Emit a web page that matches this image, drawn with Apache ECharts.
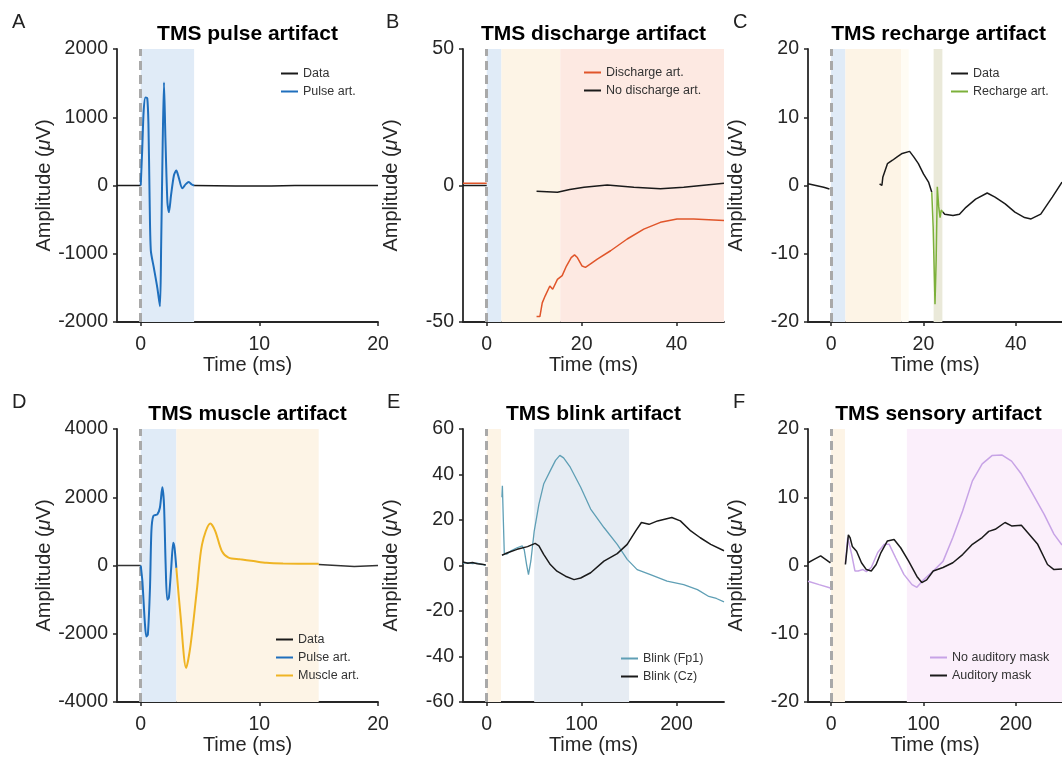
<!DOCTYPE html>
<html><head><meta charset="utf-8">
<script src="https://cdn.jsdelivr.net/npm/echarts@6/dist/echarts.min.js"></script>
<style>html,body{margin:0;padding:0;background:#fff}#c{width:1062px;height:763px}</style>
</head><body><div id="c"></div>
<script>
// ---------------- DATA ----------------
// Panel A: TMS pulse artifact (time ms, amplitude uV)
const A_data_pre = [[-2,0],[0,0]];
const A_data_post = [[4.5,0],[8,-8],[11,-8],[13,0],[20,0]];
const A_pulse = [[0,0],[0.12,500],[0.25,1100],[0.4,1290],[0.55,1280],[0.65,900],[0.75,-200],[0.85,-950],[1.1,-1200],[1.4,-1500],[1.62,-1770],[1.72,-900],[1.85,600],[1.96,1510],[2.08,700],[2.25,-250],[2.38,-390],[2.55,-150],[2.8,150],[3.0,220],[3.2,120],[3.5,-40],[3.8,20],[4.05,50],[4.3,15],[4.5,0]];
const A_bands = [[0,4.5]];

// Panel B: TMS discharge artifact
const B_discharge_pre = [[-5,0.8],[0,0.8]];
const B_discharge_post = [[10.5,-48],[11.2,-48],[11.7,-43],[12.3,-40.5],[13.3,-36.8],[13.9,-38],[14.9,-34.4],[15.9,-33],[16.8,-29.5],[17.8,-26.4],[18.5,-25.4],[19.1,-26.4],[20.1,-29.5],[20.8,-30],[21.8,-28.8],[23.3,-27],[26.1,-23.9],[29.6,-19.6],[33.1,-16],[36.6,-13.5],[40.1,-12.3],[43.6,-12.3],[50,-12.8]];
const B_nodis_pre = [[-5,0],[0,0]];
const B_nodis_post = [[10.5,-2.1],[14.9,-2.5],[17.5,-1.5],[20.5,-0.6],[25.4,0.2],[31,-0.6],[36.6,-1.2],[41.5,-0.6],[46.8,0.3],[50,0.8]];
const B_bands = [[0,3.1],[3.1,15.5],[15.5,50]];

// Panel C: TMS recharge artifact
const C_data_pre = [[-5,0.25],[-3.3,0],[-1.6,-0.25],[-0.35,-0.5]];
const C_data_mid = [[10.5,0.25],[11,0],[11.2,1.2],[12.2,3.2],[13.3,3.7],[14.3,4.2],[15.4,4.7],[17,5.0],[17.9,4.2],[18.9,3.2],[20,1.7],[21.1,0.5],[21.8,-1.0]];
const C_recharge = [[21.8,-1.0],[22.1,-6],[22.5,-17.4],[22.75,-11],[23.0,-0.2],[23.3,-3.1],[23.6,-4.7],[23.85,-3.6],[24.2,-3.9]];
const C_data_post = [[24.2,-3.9],[24.6,-4.2],[26.4,-4.4],[27.8,-4.2],[29.2,-3.2],[31.3,-2.0],[33.8,-1.1],[35.5,-1.7],[37.7,-2.7],[39.8,-3.9],[41.9,-4.7],[43.3,-4.9],[45.4,-4.2],[46.9,-2.7],[47.9,-1.7],[50,0.5]];
const C_bands = [[0,3.1],[3.1,15.2],[15.2,16.8],[22.2,24.1]];

// Panel D: TMS muscle artifact
const D_data_pre = [[-2,0],[0,0]];
const D_data_post = [[15,30],[16.5,0],[18,-30],[20,0]];
const D_pulse = [[0,0],[0.14,-460],[0.34,-1640],[0.47,-2080],[0.6,-2030],[0.78,-660],[0.9,1010],[1.06,1450],[1.4,1500],[1.62,1700],[1.82,2290],[1.96,1800],[2.1,30],[2.23,-1000],[2.37,-950],[2.57,-70],[2.74,670],[2.85,520],[3.0,-70]];
const D_muscle = [[3.0,-70],[3.35,-1450],[3.83,-3000],[4.2,-2330],[4.75,-660],[5.17,620],[5.87,1230],[6.28,1010],[6.84,420],[7.4,230],[8.38,180],[9.5,130],[10.6,80],[12,60],[15,50]];
const D_bands = [[0,3],[3,15]];

// Panel E: TMS blink artifact
const E_fp1_pre = [[-25,1.0],[-20,1.3],[-15,0.8],[-10,1.0],[-5,0.4],[-1,0.2]];
const E_fp1_post = [[16,30],[16.5,35],[17.5,20],[18.5,5.5],[21,5],[25,6.3],[32,7.8],[37.5,8.6],[39.5,7],[42,0.4],[44,-4],[46.5,2],[50,15],[55,27],[60,35.8],[67,41.7],[72.5,46.2],[77,48.4],[81,47.3],[88,43.2],[99,34.4],[109.5,24.8],[123.5,16.7],[137.5,9.3],[148,2.7],[158.5,-1.8],[172.5,-4],[190,-6.9],[207.5,-8.4],[222,-10.6],[234,-13.6],[242,-14.5],[250,-16]];
const E_cz_pre = [[-25,1.5],[-20,1.0],[-15,1.3],[-10,0.8],[-5,0.6],[-1,0.2]];
const E_cz_post = [[16,4.5],[22,5.6],[32,7.1],[43,8.3],[51,9.7],[55,8.6],[60,4.9],[67,0.4],[74,-2.5],[83,-4.7],[92,-6.2],[99,-5.5],[109.5,-3.2],[123.5,1.9],[137.5,5.2],[148,9.3],[157,15.2],[163,18.9],[171,18.1],[180,19.6],[195,21.1],[204,19.6],[215,15.2],[225,12.2],[236,9.3],[250,6.5]];
const E_bands = [[0,15],[50,150]];

// Panel F: TMS sensory artifact
const F_mask_pre = [[-25,0.4],[-18.4,0.9],[-11.3,1.4],[-6,0.9],[-0.7,0.4]];
const F_mask_post = [[15.5,0.15],[17,2.1],[18.7,4.5],[20.5,4.1],[23,2.8],[27.6,2.1],[32.9,0.4],[38.2,-0.6],[43.5,-0.8],[48.8,0.15],[54,1.9],[61,3.6],[68.2,3.8],[75.3,2.6],[84.1,0.6],[92.9,-1.6],[98.2,-2.5],[103.5,-2.1],[110.6,-0.8],[121.2,-0.3],[131.8,0.4],[142.4,1.6],[153,3.1],[163.6,4.1],[170.7,5.0],[177.7,5.3],[188.3,6.3],[195.4,5.8],[206,5.9],[213,4.8],[223.7,3.1],[234.3,0.15],[241.3,-0.6],[250,-0.5]];
const F_nomask_pre = [[-25,-2.3],[-13,-2.8],[-0.7,-3.3]];
const F_nomask_post = [[15.5,0.25],[18,4.1],[19.4,4.3],[22.3,1.6],[25.8,-0.8],[29.3,-0.8],[34.6,-0.6],[38.2,-0.9],[43.5,-0.3],[50.5,1.9],[57.6,3.1],[62.9,3.1],[70,1.1],[78.8,-1.3],[87.6,-2.8],[92.9,-3.2],[100,-2.1],[110.6,-0.8],[121.2,0.6],[131.8,4.1],[142.4,8.0],[153,12.4],[163.6,14.9],[174.2,16.1],[184.8,16.2],[195.4,15.3],[206,13.4],[216.6,10.9],[230.7,7.5],[241.3,4.6],[250,3.0]];
const F_bands = [[0,15],[82,250]];

// Axis ranges / ticks
const xRanges = [[-2,20],[-5,50],[-5,50],[-2,20],[-25,250],[-25,250]];
const xTicks = [[0,10,20],[0,20,40],[0,20,40],[0,10,20],[0,100,200],[0,100,200]];
const yRanges = [[-2000,2000,1000],[-50,50,50],[-20,20,10],[-4000,4000,2000],[-60,60,20],[-20,20,10]];
const titles = ['TMS pulse artifact','TMS discharge artifact','TMS recharge artifact','TMS muscle artifact','TMS blink artifact','TMS sensory artifact'];
const letters = ['A','B','C','D','E','F'];

// ---------------- LAYOUT / STYLE ----------------
const FONT = '"Liberation Sans", Arial, Helvetica, sans-serif';
const gridPos = [
  {left:117, top:49}, {left:463, top:49}, {left:808, top:49},
  {left:117, top:429}, {left:463, top:429}, {left:808, top:429}
];
const GW = 261, GH = 273;
const col = {
  black:'#1a1a1a', pulse:'#1f6fbd', discharge:'#e0552a', recharge:'#7cb03a',
  muscle:'#efb424', fp1:'#5f9fb5', nomask:'#c7a3e6'
};
const shade = {
  blue:'#e0ebf7', orange:'#fdf4e6', pink:'#fde9e2', cream:'#fffcf4', olive:'#eae9d9',
  bluegray:'#e6ecf3', lav:'#fbeffb'
};
const bandColors = [
  [shade.blue],
  [shade.blue, shade.orange, shade.pink],
  [shade.blue, shade.orange, shade.cream, shade.olive],
  [shade.blue, shade.orange],
  [shade.orange, shade.bluegray],
  [shade.orange, shade.lav]
];
const allBands = [A_bands,B_bands,C_bands,D_bands,E_bands,F_bands];

const grids = gridPos.map(p => ({left:p.left, top:p.top, width:GW, height:GH, containLabel:false}));
const axisLineStyle = {color:'#262626', width:1.8};
const xAxes = xRanges.map((r,i) => ({
  type:'value', gridIndex:i, min:r[0], max:r[1],
  name:'Time (ms)', nameLocation:'middle', nameGap:31,
  nameTextStyle:{fontSize:20, color:'#262626', fontFamily:FONT},
  axisLine:{show:true, onZero:false, lineStyle:axisLineStyle},
  axisTick:{show:true, customValues:xTicks[i], length:4, lineStyle:{color:'#262626', width:1.5}},
  axisLabel:{customValues:xTicks[i], fontSize:19.5, color:'#262626', fontFamily:FONT, margin:13, formatter:v=>String(v)},
  splitLine:{show:false}
}));
const yAxes = yRanges.map((r,i) => ({
  type:'value', gridIndex:i, min:r[0], max:r[1], interval:r[2],
  name:'{n|Amplitude (}{m|\u03bc}{n|V)}', nameLocation:'middle', nameGap:62,
  nameTextStyle:{rich:{n:{fontSize:20, color:'#262626', fontFamily:FONT}, m:{fontSize:20, fontStyle:'italic', color:'#262626', fontFamily:FONT}}},
  axisLine:{show:true, onZero:false, lineStyle:axisLineStyle},
  axisTick:{show:true, length:4, lineStyle:{color:'#262626', width:1.5}},
  axisLabel:{fontSize:19.5, color:'#262626', fontFamily:FONT, margin:9, formatter:v=>String(v)},
  splitLine:{show:false}
}));

function bandSeries(i){
  return {
    type:'line', name:'_bands'+i, xAxisIndex:i, yAxisIndex:i, data:[], silent:true, z:1,
    markArea:{silent:true, z:1, data: allBands[i].map((b,k)=>[{xAxis:b[0], itemStyle:{color:bandColors[i][k]}},{xAxis:b[1]}])},
    markLine:{silent:true, z:2, symbol:['none','none'], label:{show:false},
      lineStyle:{type:[9,5], color:'#a9a9a9', width:3}, data:[{xAxis:0}]}
  };
}
function lineS(i, name, data, color, width, smooth){
  return {type:'line', name:name, xAxisIndex:i, yAxisIndex:i, data:data, showSymbol:false, symbol:'none',
    smooth: smooth || false, z:3, lineStyle:{color:color, width:width||1.5}, itemStyle:{color:color}};
}

const series = [];
for (let i=0;i<6;i++) series.push(bandSeries(i));
// A
series.push(lineS(0,'Data',A_data_pre,col.black,1.5));
series.push(lineS(0,'Data',A_data_post,col.black,1.5));
series.push(lineS(0,'Pulse art.',A_pulse,col.pulse,2,0.25));
// B
series.push(lineS(1,'No discharge art.',B_nodis_pre,col.black,1.5));
series.push(lineS(1,'No discharge art.',B_nodis_post,col.black,1.5));
series.push(lineS(1,'Discharge art.',B_discharge_pre,col.discharge,1.5));
series.push(lineS(1,'Discharge art.',B_discharge_post,col.discharge,1.5));
// C
series.push(lineS(2,'Data',C_data_pre,col.black,1.5));
series.push(lineS(2,'Data',C_data_mid,col.black,1.5));
series.push(lineS(2,'Data',C_data_post,col.black,1.5));
series.push(lineS(2,'Recharge art.',C_recharge,col.recharge,1.5));
// D
series.push(lineS(3,'Data',D_data_pre,'#333333',1.3));
series.push(lineS(3,'Data',D_data_post,'#333333',1.3));
series.push(lineS(3,'Pulse art.',D_pulse,col.pulse,2,0.25));
series.push(lineS(3,'Muscle art.',D_muscle,col.muscle,2,0.3));
// E
series.push(lineS(4,'Blink (Fp1)',E_fp1_pre,col.fp1,1.3));
series.push(lineS(4,'Blink (Fp1)',E_fp1_post,col.fp1,1.3));
series.push(lineS(4,'Blink (Cz)',E_cz_pre,col.black,1.5));
series.push(lineS(4,'Blink (Cz)',E_cz_post,col.black,1.5));
// F
series.push(lineS(5,'No auditory mask',F_nomask_pre,col.nomask,1.5));
series.push(lineS(5,'No auditory mask',F_nomask_post,col.nomask,1.5));
series.push(lineS(5,'Auditory mask',F_mask_pre,col.black,1.5));
series.push(lineS(5,'Auditory mask',F_mask_post,col.black,1.5));

const legendBase = {orient:'vertical', icon:'rect', itemWidth:17, itemHeight:2, itemGap:3, padding:0,
  selectedMode:false, textStyle:{fontSize:12.5, color:'#333', lineHeight:15, fontFamily:FONT}};
const legends = [
  {data:['Data','Pulse art.'], left:281, top:66},
  {data:['Discharge art.','No discharge art.'], left:584, top:65},
  {data:['Data','Recharge art.'], left:951, top:66},
  {data:['Data','Pulse art.','Muscle art.'], left:276, top:632},
  {data:['Blink (Fp1)','Blink (Cz)'], left:621, top:651},
  {data:['No auditory mask','Auditory mask'], left:930, top:650}
].map(l => Object.assign({}, legendBase, l));

const titleOpts = [];
titles.forEach((t,i) => {
  titleOpts.push({text:t, left:gridPos[i].left + GW/2, top: i<3 ? 24 : 404, textAlign:'center', padding:0,
    textStyle:{fontSize:21, fontWeight:'bold', color:'#000', fontFamily:FONT}});
});
const letterPos = [[12,12],[386,12],[733,12],[12,392],[387,392],[733,392]];
letters.forEach((t,i) => {
  titleOpts.push({text:t, left:letterPos[i][0], top:letterPos[i][1], padding:0,
    textStyle:{fontSize:20, fontWeight:'normal', color:'#222', fontFamily:FONT}});
});

const chart = echarts.init(document.getElementById('c'), null, {renderer:'canvas'});
chart.setOption({
  animation:false,
  backgroundColor:'#ffffff',
  title:titleOpts,
  legend:legends,
  grid:grids,
  xAxis:xAxes,
  yAxis:yAxes,
  series:series
});
</script></body></html>
